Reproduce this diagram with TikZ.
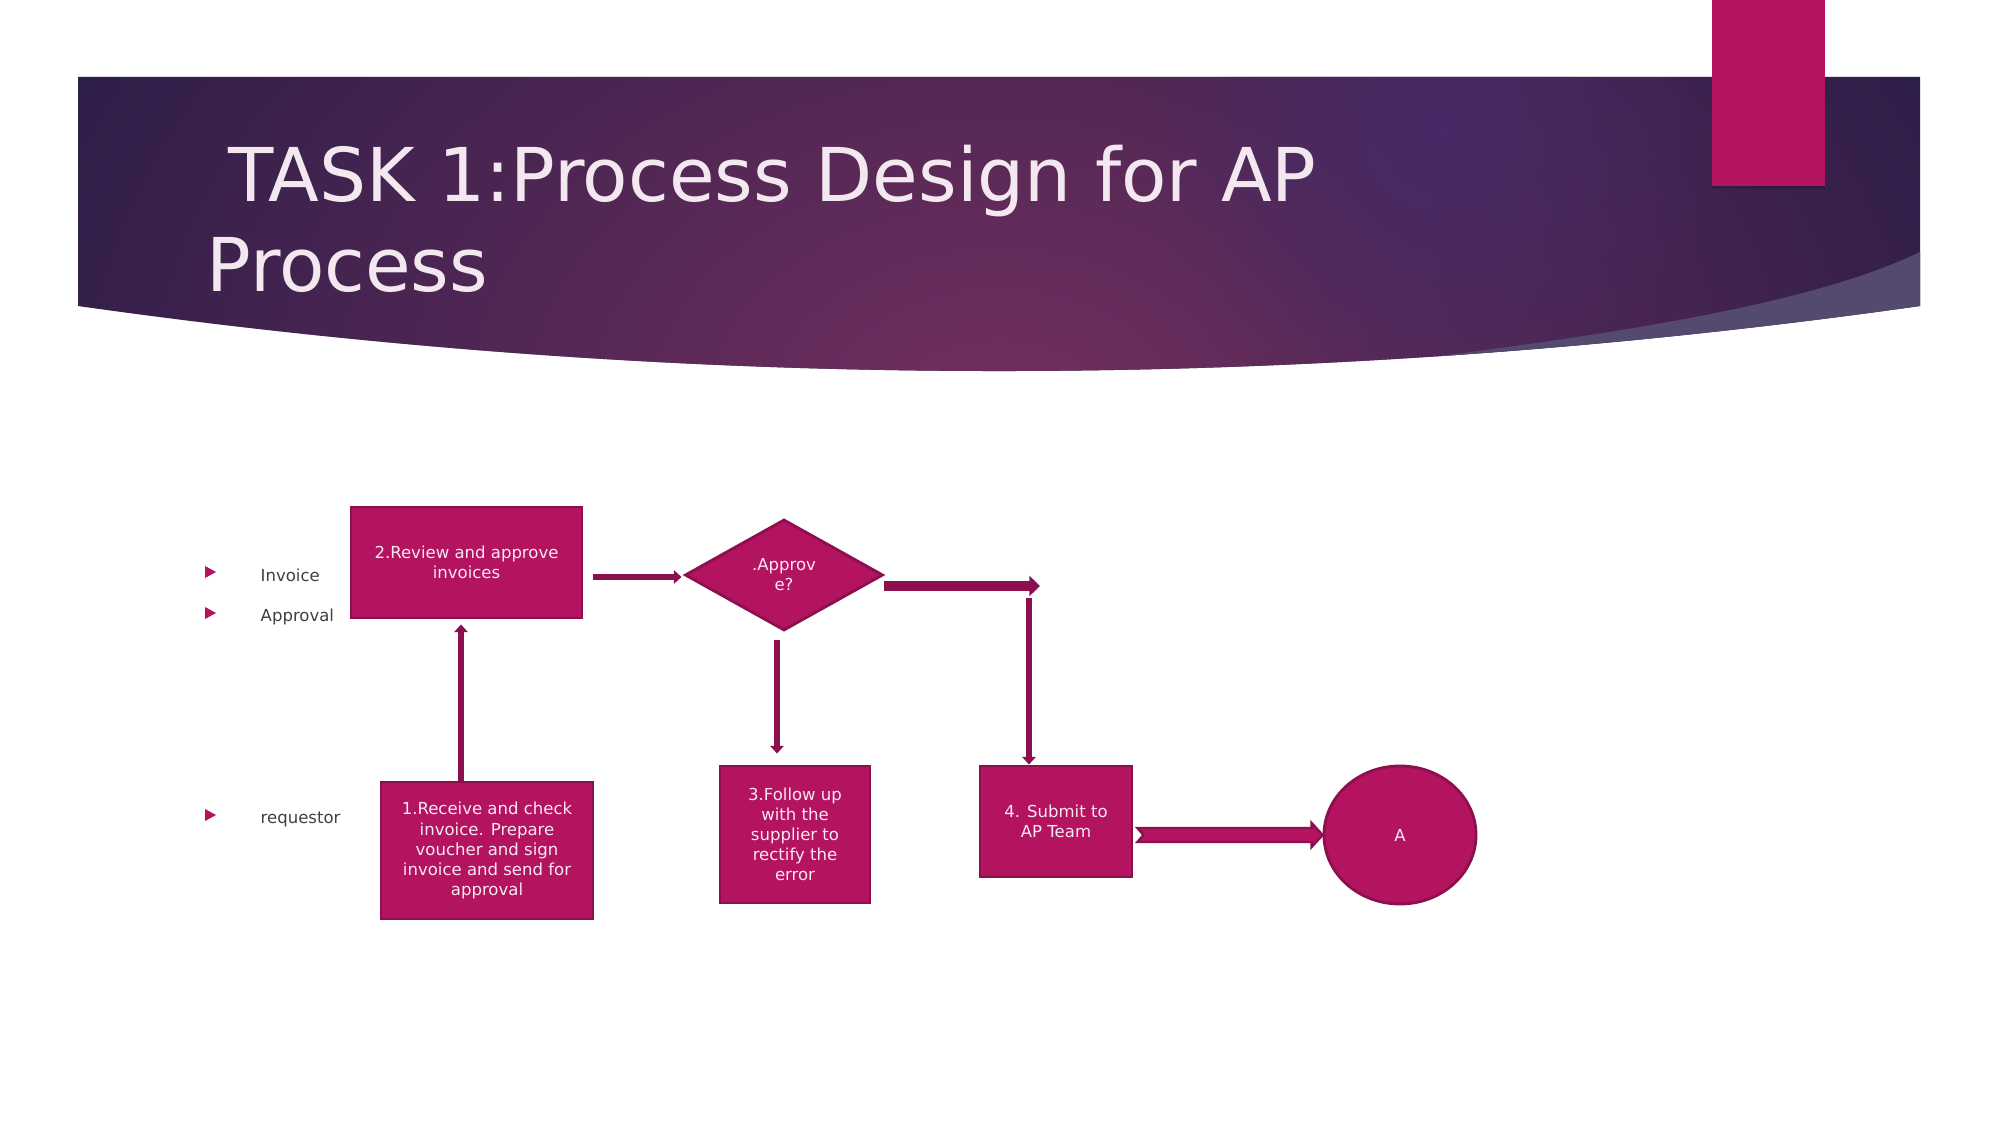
\documentclass[tikz,border=0pt]{standalone}
\usepackage{fontspec}
\setmainfont{DejaVu Sans}
\usetikzlibrary{positioning,shapes.geometric,arrows.meta,calc,fadings}
\definecolor{bannerDark}{HTML}{2A1D48}
\definecolor{bannerGlow}{HTML}{73305F}
\definecolor{bannerBlob}{HTML}{472B66}
\definecolor{bannerSliver}{HTML}{544A70}
\definecolor{titleInk}{HTML}{F3E8EF}
\definecolor{plum}{HTML}{B3135F}
\definecolor{plumDark}{HTML}{8C0F4E}
\definecolor{plumInk}{HTML}{F8E8F1}
\definecolor{labelInk}{HTML}{404040}
\tikzfading[name=glowfade, inner color=transparent!0, outer color=transparent!100]
\newcommand{\boxfont}{\fontsize{4.7}{5.7}\selectfont}
\newcommand{\titlefont}{\fontsize{21.1}{25.6}\selectfont}
\newcommand{\bannershape}{(78,77) -- (1920,77) -- (1920,306) .. controls (1306,392.7) and (692,392.7) .. (78,306) -- cycle}
\newcommand{\bulletmark}[2]{%
  \fill[plum] (#1-5,#2-6) -- (#1+6,#2) -- (#1-5,#2+6) -- cycle;
}

\begin{document}
\begin{tikzpicture}[x=0.01cm,y=-0.01cm,
  procbox/.style={rectangle, draw=plumDark, fill=plum, line width=0.8pt,
    text=plumInk, font=\boxfont, align=center, inner sep=0pt},
  decision/.style={procbox, diamond},
  endpoint/.style={procbox, ellipse},
  flow/.style={draw=plumDark, line width=1.7pt, -{Triangle[length=2.2pt,width=3.8pt]}},
  flowbig/.style={flow, line width=3pt, -{Triangle[length=3pt,width=5.6pt]}},
  blockarrow/.style={fill=plum, draw=plumDark, line width=0.7pt, line join=miter},
  sidelabel/.style={anchor=base west, text=labelInk, font=\boxfont, inner sep=0pt},
  titletext/.style={anchor=base west, text=titleInk, font=\titlefont, inner sep=0pt}]
  \useasboundingbox (0,0) rectangle (2001,1125);
  \fill[white] (0,0) rectangle (2001,1125);

  % banner
  \fill[bannerDark] \bannershape;
  \begin{scope}
    \clip \bannershape;
    \fill[bannerGlow, path fading=glowfade] (1000,420) ellipse [x radius=11cm, y radius=8cm];
    \fill[bannerBlob, path fading=glowfade] (1440,130) circle (3cm);
    \fill[bannerSliver] (1400,361) .. controls (1650,330) and (1820,300) .. (1920,252)
      -- (1930,252) -- (1930,450) -- (1300,450) -- (1300,380) -- cycle;
  \end{scope}
  \fill[plum] (1712,0) rectangle (1825,186);
  \fill[black, opacity=0.15] (1712,186) rectangle (1825,189);

  \node[titletext] (titleA) at (206,202) {\hspace*{0.22cm}TASK 1:Process Design for AP};
  \node[titletext] (titleB) at (206,292) {Process};

  % side labels
  \bulletmark{210}{572}
  \bulletmark{210}{613}
  \bulletmark{210}{815}
  \node[sidelabel] (lblInvoice) at (260,581) {Invoice};
  \node[sidelabel] (lblApproval) at (260,621) {Approval};
  \node[sidelabel] (lblRequestor) at (260,823) {requestor};

  % process steps
  \node[procbox, minimum width=2.31cm, minimum height=1.11cm] (review) at (466.5,562.5)
    {2.Review and approve\\invoices};
  \node[decision, minimum width=1.98cm, minimum height=1.11cm] (approve) at (784,575)
    {.Approv\\e?};
  \node[procbox, minimum width=2.12cm, minimum height=1.37cm] (receive) at (487,850.5)
    {1.Receive and check\\invoice. Prepare\\voucher and sign\\invoice and send for\\approval};
  \node[procbox, minimum width=1.50cm, minimum height=1.37cm] (followup) at (795,834.5)
    {3.Follow up\\with the\\supplier to\\rectify the\\error};
  \node[procbox, minimum width=1.52cm, minimum height=1.11cm] (submit) at (1056,821.5)
    {4. Submit to\\AP Team};
  \node[endpoint, minimum width=1.52cm, minimum height=1.38cm] (teamA) at (1400,835) {A};

  % connectors
  \draw[flow] ($(receive.north)+(-26,0)$) -- ($(review.south)+(-5.5,5)$);
  \draw[flow] ($(review.east |- approve.west)+(10,2)$) -- ($(approve.west)+(-2,2)$);
  \coordinate (bend) at (1040,586);
  \draw[flowbig] (approve.east |- bend) -- (bend);
  \coordinate (drop) at (1029,598);
  \draw[flow] (drop) -- (drop |- submit.north);
  \draw[flow] ($(approve.south)+(-7,8)$) -- ($(followup.north)+(-18,-11)$);
  \coordinate (tail) at ($(submit.east)+(4,13.5)$);
  \coordinate (tip) at (teamA.west);
  \draw[blockarrow] ($(tail)+(0,-7)$) -- ($(tip)+(-11,-7)$) -- ($(tip)+(-11,-12)$) -- (tip)
    -- ($(tip)+(-11,12)$) -- ($(tip)+(-11,7)$) -- ($(tail)+(0,7)$) -- ($(tail)+(6,0)$) -- cycle;
\end{tikzpicture}
\end{document}
